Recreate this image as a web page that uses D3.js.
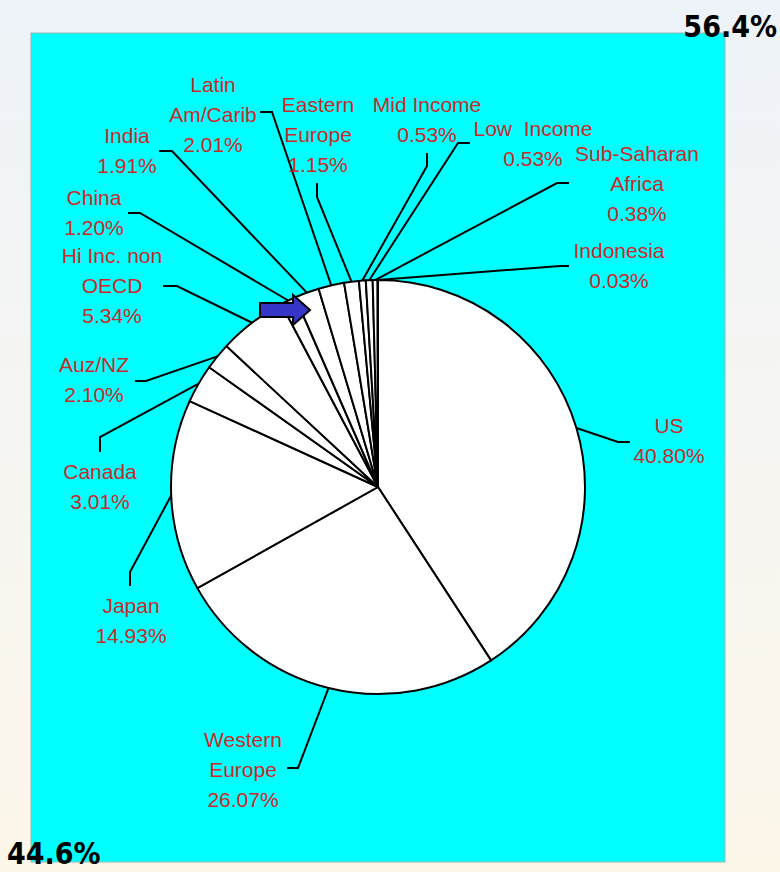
<!DOCTYPE html>
<html>
<head>
<meta charset="utf-8">
<script src="https://cdn.jsdelivr.net/npm/d3@7"></script>
<style>
  body { margin: 0; padding: 0; }
  svg { display: block; }
</style>
</head>
<body>
<div id="chart"></div>
<script>
// Slice names (clockwise from 12 o'clock) and their shares in percent
var regions = ["US", "Western\nEurope", "Japan", "Canada", "Auz/NZ", "Hi Inc. non\nOECD",
  "China", "India", "Latin\nAm/Carib", "Eastern\nEurope", "Mid Income", "Low  Income",
  "Sub-Saharan\nAfrica", "Indonesia"];
var shares = [40.80, 26.07, 14.93, 3.01, 2.10, 5.34, 1.20, 1.91, 2.01, 1.15, 0.53, 0.53, 0.38, 0.03];

// Corner totals
var cornerLabels = ["56.4%", "44.6%"];

// Label placement: text centre x, first baseline y, leader bend points
var labelLayout = [
  {x: 669, y: 433, bend: [[618, 442], [630, 442]]},
  {x: 243, y: 747, bend: [[298, 768], [287, 768]]},
  {x: 131, y: 613, bend: [[130, 572], [130, 586]]},
  {x: 100, y: 479, bend: [[100, 437], [100, 452]]},
  {x: 94, y: 372, bend: [[146, 381], [135, 381]]},
  {x: 112, y: 263, bend: [[177, 286], [163, 286]]},
  {x: 94, y: 205, bend: [[140, 213], [128, 213]]},
  {x: 127, y: 143, bend: [[172, 151], [159, 151]]},
  {x: 213, y: 92, bend: [[272, 112], [260, 112]]},
  {x: 318, y: 112, bend: [[317, 197], [317, 183]]},
  {x: 427, y: 112, bend: [[427, 166], [427, 153]]},
  {x: 533, y: 136, bend: [[458, 143], [470, 143]]},
  {x: 637, y: 161, bend: [[557, 183], [569, 183]]},
  {x: 619, y: 258, bend: [[560, 266], [569, 266]]}
];

var width = 780, height = 872;
var cx = 378, cy = 487, radius = 207;

var svg = d3.select("#chart").append("svg")
  .attr("width", width)
  .attr("height", height);

// page background gradient
var defs = svg.append("defs");
var grad = defs.append("linearGradient")
  .attr("id", "bg")
  .attr("x1", 0).attr("y1", 0).attr("x2", 0).attr("y2", 1);
grad.append("stop").attr("offset", "0%").attr("stop-color", "#eef3f9");
grad.append("stop").attr("offset", "100%").attr("stop-color", "#fdf7ea");

svg.append("rect")
  .attr("width", width)
  .attr("height", height)
  .attr("fill", "url(#bg)");

// cyan plot area
svg.append("rect")
  .attr("x", 31)
  .attr("y", 33)
  .attr("width", 694)
  .attr("height", 829)
  .attr("fill", "#00ffff")
  .attr("stroke", "#9fb6ad")
  .attr("stroke-width", 1);

var pie = d3.pie()
  .sort(null)
  .value(function(d) { return d; });

var arcs = pie(shares);

var arc = d3.arc()
  .innerRadius(0)
  .outerRadius(radius);

var g = svg.append("g")
  .attr("transform", "translate(" + cx + "," + cy + ")");

g.selectAll("path.slice")
  .data(arcs)
  .enter().append("path")
  .attr("class", "slice")
  .attr("d", arc)
  .attr("fill", "#ffffff")
  .attr("stroke", "#000000")
  .attr("stroke-width", 2)
  .attr("stroke-linejoin", "round");

// point on the rim at the middle of each slice
function rimPoint(d) {
  var a = (d.startAngle + d.endAngle) / 2;
  return [cx + radius * Math.sin(a), cy - radius * Math.cos(a)];
}

var line = d3.line();

svg.selectAll("path.leader")
  .data(arcs)
  .enter().append("path")
  .attr("class", "leader")
  .attr("d", function(d, i) {
    return line([rimPoint(d)].concat(labelLayout[i].bend));
  })
  .attr("fill", "none")
  .attr("stroke", "#000000")
  .attr("stroke-width", 2);

var fmt = d3.format(".2f");

var labels = svg.selectAll("text.label")
  .data(arcs)
  .enter().append("text")
  .attr("class", "label")
  .attr("text-anchor", "middle")
  .attr("font-family", "'Liberation Sans', Arial, sans-serif")
  .attr("font-size", 21)
  .attr("fill", "#c82a2a");

labels.each(function(d, i) {
  var lines = regions[i].split("\n").concat([fmt(shares[i]) + "%"]);
  var t = d3.select(this);
  lines.forEach(function(s, k) {
    t.append("tspan")
      .attr("x", labelLayout[i].x)
      .attr("y", labelLayout[i].y + k * 30)
      .style("white-space", "pre")
      .text(s);
  });
});

// blue arrow pointing at the small slices
svg.append("path")
  .attr("d", "M260,303 L293,303 L293,295 L310,310 L293,325 L293,317 L260,317 Z")
  .attr("fill", "#3535c8")
  .attr("stroke", "#000000")
  .attr("stroke-width", 2);

// corner totals
svg.append("text")
  .attr("x", 777)
  .attr("y", 37)
  .attr("text-anchor", "end")
  .attr("font-family", "'DejaVu Sans Condensed', 'DejaVu Sans', sans-serif")
  .attr("font-weight", "bold")
  .attr("font-size", 30)
  .attr("fill", "#000000")
  .text(cornerLabels[0]);

svg.append("text")
  .attr("x", 7)
  .attr("y", 864)
  .attr("text-anchor", "start")
  .attr("font-family", "'DejaVu Sans Condensed', 'DejaVu Sans', sans-serif")
  .attr("font-weight", "bold")
  .attr("font-size", 30)
  .attr("fill", "#000000")
  .text(cornerLabels[1]);
</script>
</body>
</html>
